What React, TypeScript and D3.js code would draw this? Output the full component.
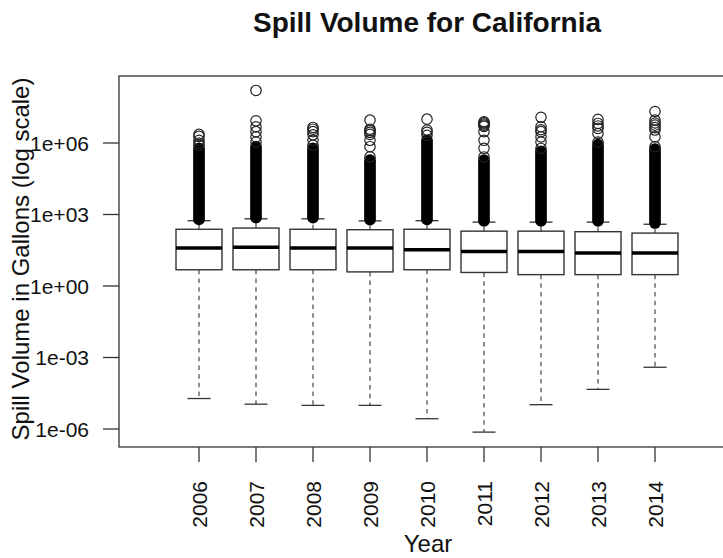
import * as d3 from "d3";

const years = ["2006", "2007", "2008", "2009", "2010", "2011", "2012", "2013", "2014"];
const lowerWhisker = [1.9e-5, 1.1e-5, 9.8e-6, 9.8e-6, 2.7e-6, 7.4e-7, 1.05e-5, 4.6e-5, 3.9e-4];
const q1 = [4.8, 4.8, 4.8, 3.9, 4.8, 3.7, 3.0, 3.0, 3.0];
const median = [39, 42, 39, 39, 33, 28, 28, 24, 24];
const q3 = [240, 270, 240, 230, 240, 200, 200, 190, 166];
const upperWhisker = [550, 660, 660, 540, 550, 480, 480, 480, 390];
// the thousands of outliers just above the whisker overlap into a solid column
const outlierBandLow = [620, 740, 740, 610, 620, 540, 540, 540, 440];
const outlierBandHigh = [6e5, 7e5, 6e5, 1.9e5, 1.3e6, 1.9e5, 4.5e5, 8.5e5, 5.5e5];
const outliers = [
  [2.3e6, 1.9e6, 1.3e6, 1e6, 8e5],
  [1.6e8, 8.5e6, 4.8e6, 3e6, 1.8e6, 1.1e6],
  [4.5e6, 3.8e6, 3e6, 2.2e6, 1.3e6, 8e5],
  [9.1e6, 3.8e6, 3.3e6, 2.8e6, 2.3e6, 1.3e6, 7e5, 2.6e5],
  [1e7, 3.5e6, 2.8e6, 2.1e6],
  [7.8e6, 7e6, 6.3e6, 5.6e6, 5e6, 3e6, 1.3e6, 6e5, 2.6e5],
  [1.2e7, 4.8e6, 3.6e6, 3e6, 1.8e6, 1.1e6, 5.9e5],
  [9.8e6, 6.6e6, 5.2e6, 4.1e6, 2.5e6, 1.1e6],
  [2.1e7, 9.1e6, 6.9e6, 5.6e6, 4.4e6, 3.5e6, 1.8e6, 7e5],
];
const yTicks = [1e-6, 1e-3, 1, 1e3, 1e6];
const yTickLabels = ["1e-06", "1e-03", "1e+00", "1e+03", "1e+06"];

const width = 723;
const height = 558;
const frame = { left: 119, right: 735, top: 76, bottom: 447 };
const font = "'Liberation Sans', Arial, Helvetica, sans-serif";

export default function App() {
  const x = d3.scalePoint(years, [199, 655]);
  const y = d3.scaleLog([1e-6, 1e6], [429, 143]);
  const boxHalf = 23;
  const capHalf = 11.5;
  const r = 5.2;

  return (
    <svg
      width={width}
      height={height}
      style={{ position: "absolute", left: 0, top: 0, background: "#fff" }}
      fontFamily={font}
    >
      <text x={427} y={32} textAnchor="middle" fontSize={28} fontWeight="bold" fill="#111">
        Spill Volume for California
      </text>

      {years.map((yr, i) => {
        const cx = x(yr)!;
        return (
          <g key={yr}>
            <line x1={cx} x2={cx} y1={y(q1[i])} y2={y(lowerWhisker[i])} stroke="#444" strokeWidth={1.2} strokeDasharray="4.5,4.2" />
            <line x1={cx} x2={cx} y1={y(q3[i])} y2={y(upperWhisker[i])} stroke="#444" strokeWidth={1.2} strokeDasharray="4.5,4.2" />
            <line x1={cx - capHalf} x2={cx + capHalf} y1={y(lowerWhisker[i])} y2={y(lowerWhisker[i])} stroke="#333" strokeWidth={1.3} />
            <line x1={cx - capHalf} x2={cx + capHalf} y1={y(upperWhisker[i])} y2={y(upperWhisker[i])} stroke="#333" strokeWidth={1.3} />
            <rect
              x={cx - boxHalf}
              width={boxHalf * 2}
              y={y(q3[i])}
              height={y(q1[i]) - y(q3[i])}
              fill="#fff"
              stroke="#333"
              strokeWidth={1.4}
            />
            <line x1={cx - boxHalf} x2={cx + boxHalf} y1={y(median[i])} y2={y(median[i])} stroke="#000" strokeWidth={3.5} />
            <line
              x1={cx}
              x2={cx}
              y1={y(outlierBandLow[i])}
              y2={y(outlierBandHigh[i])}
              stroke="#000"
              strokeWidth={r * 2 + 1.3}
              strokeLinecap="round"
            />
            {outliers[i].map((v, j) => (
              <circle key={j} cx={cx} cy={y(v)} r={r} fill="none" stroke="#222" strokeWidth={1.2} />
            ))}
          </g>
        );
      })}

      <rect
        x={frame.left}
        y={frame.top}
        width={frame.right - frame.left}
        height={frame.bottom - frame.top}
        fill="none"
        stroke="#333"
        strokeWidth={1.3}
      />

      {yTicks.map((t, i) => (
        <g key={t}>
          <line x1={frame.left - 16} x2={frame.left} y1={y(t)} y2={y(t)} stroke="#333" strokeWidth={1.3} />
          <text x={89} y={y(t)} dy="0.36em" textAnchor="end" fontSize={21} fill="#111">
            {yTickLabels[i]}
          </text>
        </g>
      ))}

      {years.map((yr) => (
        <g key={yr}>
          <line x1={x(yr)!} x2={x(yr)!} y1={frame.bottom} y2={frame.bottom + 15} stroke="#333" strokeWidth={1.3} />
          <text
            transform={`translate(${x(yr)! + 7.5},481) rotate(-90)`}
            textAnchor="end"
            fontSize={21}
            fill="#111"
          >
            {yr}
          </text>
        </g>
      ))}

      <text x={428} y={552} textAnchor="middle" fontSize={24} fill="#111">
        Year
      </text>
      <text transform="translate(29,259) rotate(-90)" textAnchor="middle" fontSize={24} fill="#111">
        Spill Volume in Gallons (log scale)
      </text>
    </svg>
  );
}
